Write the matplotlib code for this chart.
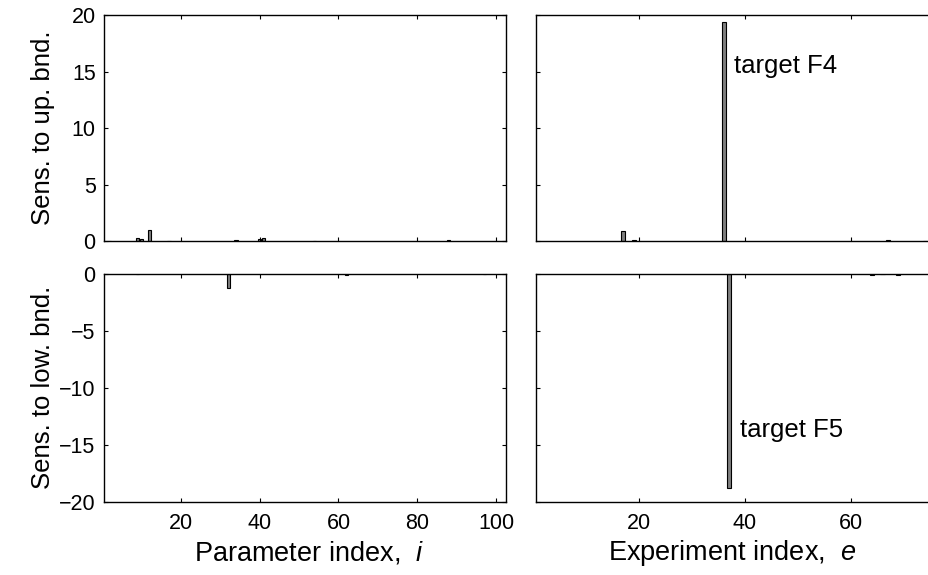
import numpy as np
import matplotlib
matplotlib.use("Agg")
import matplotlib.pyplot as plt

plt.rcParams['font.family'] = ['Liberation Sans', 'DejaVu Sans']
plt.rcParams['mathtext.fontset'] = 'custom'
plt.rcParams['mathtext.rm'] = 'Liberation Sans'
plt.rcParams['mathtext.it'] = 'Liberation Sans:italic'

# sensitivities w.r.t. parameters (102) and experiments (76); only nonzero entries listed
n_par = 102
n_exp = 76

par_up_idx = [2, 9, 10, 12, 17, 34, 40, 41, 54, 88]
par_up_val = [0.05, 0.35, 0.25, 1.0, 0.05, 0.1, 0.2, 0.35, 0.05, 0.1]

par_low_idx = [9, 32, 62, 97]
par_low_val = [-0.03, -1.25, -0.1, -0.03]

exp_up_idx = [17, 19, 36, 67, 74]
exp_up_val = [0.95, 0.1, 19.35, 0.1, 0.03]

exp_low_idx = [37, 64, 66, 69]
exp_low_val = [-18.8, -0.1, -0.05, -0.1]


def full(n, idx, val):
    s = np.zeros(n)
    for i, v in zip(idx, val):
        s[i - 1] = v
    return s


par_up = full(n_par, par_up_idx, par_up_val)
par_low = full(n_par, par_low_idx, par_low_val)
exp_up = full(n_exp, exp_up_idx, exp_up_val)
exp_low = full(n_exp, exp_low_idx, exp_low_val)

fig = plt.figure(figsize=(9.29, 5.75), dpi=100)
W, H = 929.0, 575.0
ax1 = fig.add_axes([104 / W, 1 - 241.5 / H, 402 / W, 226.5 / H])
ax2 = fig.add_axes([536 / W, 1 - 241.5 / H, 402 / W, 226.5 / H])
ax3 = fig.add_axes([104 / W, 1 - 502 / H, 402 / W, 228.5 / H])
ax4 = fig.add_axes([536 / W, 1 - 502 / H, 402 / W, 228.5 / H])

fs_tick = 15.5
fs_lab = 18.5

def draw(ax, n, s):
    x = np.arange(1, n + 1)
    nz = s != 0
    ax.bar(x[nz], s[nz], width=0.8, color='0.5', edgecolor='k', linewidth=0.8)
    ax.set_xlim(0.5, n + 0.5)
    ax.tick_params(direction='in', length=3, width=0.8, top=True, right=True,
                   labelsize=fs_tick)
    ax.tick_params(axis='x', pad=8)
    ax.tick_params(axis='y', pad=6)
    for sp in ax.spines.values():
        sp.set_linewidth(1.0)

draw(ax1, n_par, par_up)
draw(ax2, n_exp, exp_up)
draw(ax3, n_par, par_low)
draw(ax4, n_exp, exp_low)

for ax in (ax1, ax2):
    ax.set_ylim(0, 20)
    ax.set_yticks([0, 5, 10, 15, 20])
for ax in (ax3, ax4):
    ax.set_ylim(-20, 0)
    ax.set_yticks([-20, -15, -10, -5, 0])
for ax in (ax1, ax3):
    ax.set_xticks([20, 40, 60, 80, 100])
for ax in (ax2, ax4):
    ax.set_xticks([20, 40, 60])
    ax.tick_params(labelleft=False)
for ax in (ax1, ax2):
    ax.tick_params(labelbottom=False)

ax1.set_ylabel('Sens. to up. bnd.', fontsize=fs_lab, va='center')
ax3.set_ylabel('Sens. to low. bnd.', fontsize=fs_lab, va='center')
ax1.yaxis.set_label_coords((43 - 104) / 402, 0.5)
ax3.yaxis.set_label_coords((43 - 104) / 402, 0.5)
ax3.set_xlabel(r'Parameter index,  $i$', fontsize=19.5, va='center')
ax4.set_xlabel(r'Experiment index,  $e$', fontsize=19.5, va='center')
ax3.xaxis.set_label_coords((309 - 104) / 402, -(553 - 502) / 228.5)
ax4.xaxis.set_label_coords((732 - 536) / 402, -(553 - 502) / 228.5)

ax2.text(37.9, 15.5, 'target F4', fontsize=fs_lab, va='center', ha='left')
ax4.text(39.0, -13.7, 'target F5', fontsize=fs_lab, va='center', ha='left')

fig.savefig('out.png', dpi=100)
